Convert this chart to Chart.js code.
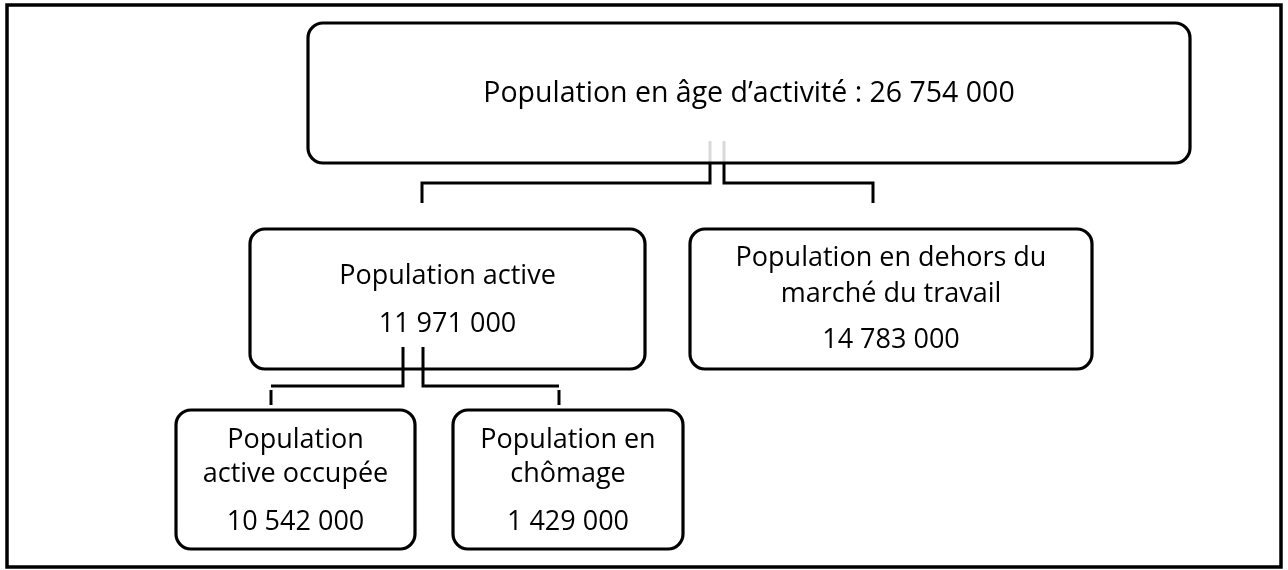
<!DOCTYPE html>
<html lang="fr">
<head>
<meta charset="utf-8">
<title>Population en âge d'activité</title>
<script src="https://cdn.jsdelivr.net/npm/chart.js@4/dist/chart.umd.min.js"></script>
<style>
  html, body { margin: 0; padding: 0; background: #ffffff; overflow: hidden; }
  canvas { display: block; }
</style>
</head>
<body>
<canvas id="c" width="1288" height="570"></canvas>
<script>
// ---------- DATA ----------
const nodeNames = [
  ["Population en âge d’activité :"],
  ["Population active"],
  ["Population en dehors du", "marché du travail"],
  ["Population", "active occupée"],
  ["Population en", "chômage"]
];
const nodeValues = [26754000, 11971000, 14783000, 10542000, 1429000];
const nodeParents = [null, 0, 0, 1, 1];

// ---------- LAYOUT (data units of the x / y scales) ----------
const boxRects = [            // [left, top, right, bottom]
  [308, 23, 1190, 163],
  [250, 229, 645, 369],
  [690, 229, 1092, 369],
  [176, 410, 415, 549],
  [453, 410, 683, 549]
];
const textBaselines = [       // baseline of each text line, last = value line
  [102],
  [284, 332],
  [266, 302, 348],
  [448, 482, 530],
  [448, 482, 530]
];
const fontSizes = [28.5, 27, 27, 27, 27];
const inlineValue = [true, false, false, false, false];
// connectors: for each parent, stems x, stem top, bar y, ticks (x, top, bottom)
const connectors = [
  { stems: [710, 724], stemTop: 163, ghostTop: 141, barY: 183,
    ends: [422, 873], tickTop: 183, tickBottom: 203 },
  { stems: [403, 423], stemTop: 347, ghostTop: null, barY: 386,
    ends: [271, 559], tickTop: 390, tickBottom: 405 }
];
const frameRect = [7, 5, 1281, 567];

const fmt = v => String(v).replace(/\B(?=(\d{3})+(?!\d))/g, ' ');

const diagramPlugin = {
  id: 'diagram',
  afterDraw(chart) {
    const ctx = chart.ctx;
    const X = v => chart.scales.x.getPixelForValue(v);
    const Y = v => chart.scales.y.getPixelForValue(v);
    ctx.save();
    ctx.strokeStyle = '#000';
    ctx.lineCap = 'butt';
    ctx.lineJoin = 'miter';

    // outer frame
    ctx.lineWidth = 3.5;
    ctx.strokeRect(X(frameRect[0]), Y(frameRect[1]),
                   X(frameRect[2]) - X(frameRect[0]), Y(frameRect[3]) - Y(frameRect[1]));

    // connectors
    connectors.forEach(cn => {
      if (cn.ghostTop !== null) {
        ctx.strokeStyle = '#d9d9d9';
        ctx.lineWidth = 3;
        cn.stems.forEach(sx => {
          ctx.beginPath();
          ctx.moveTo(X(sx), Y(cn.ghostTop));
          ctx.lineTo(X(sx), Y(cn.stemTop));
          ctx.stroke();
        });
      }
      ctx.strokeStyle = '#000';
      ctx.lineWidth = 3;
      for (let i = 0; i < 2; i++) {
        ctx.beginPath();
        ctx.moveTo(X(cn.stems[i]), Y(cn.stemTop));
        ctx.lineTo(X(cn.stems[i]), Y(cn.barY));
        ctx.lineTo(X(cn.ends[i]), Y(cn.barY));
        if (cn.tickTop === cn.barY) ctx.lineTo(X(cn.ends[i]), Y(cn.tickBottom));
        ctx.stroke();
        if (cn.tickTop !== cn.barY) {
          ctx.beginPath();
          ctx.moveTo(X(cn.ends[i]), Y(cn.tickTop));
          ctx.lineTo(X(cn.ends[i]), Y(cn.tickBottom));
          ctx.stroke();
        }
      }
    });

    // boxes
    boxRects.forEach(r => {
      ctx.lineWidth = 3.2;
      ctx.strokeStyle = '#000';
      ctx.beginPath();
      ctx.roundRect(X(r[0]), Y(r[1]), X(r[2]) - X(r[0]), Y(r[3]) - Y(r[1]), 15);
      ctx.stroke();
    });

    // texts
    ctx.fillStyle = '#000';
    ctx.textAlign = 'center';
    ctx.textBaseline = 'alphabetic';
    nodeNames.forEach((lines, i) => {
      ctx.font = fontSizes[i] + 'px "Open Sans"';
      const r = boxRects[i];
      const cx = X((r[0] + r[2]) / 2);
      const bl = textBaselines[i];
      if (inlineValue[i]) {
        ctx.fillText(lines[0] + ' ' + fmt(nodeValues[i]), cx, Y(bl[0]));
      } else {
        lines.forEach((t, k) => ctx.fillText(t, cx, Y(bl[k])));
        ctx.fillText(fmt(nodeValues[i]), cx, Y(bl[bl.length - 1]));
      }
    });
    ctx.restore();
  }
};

const centers = boxRects.map(r => ({ x: (r[0] + r[2]) / 2, y: (r[1] + r[3]) / 2 }));

new Chart(document.getElementById('c'), {
  type: 'scatter',
  data: {
    datasets: [{
      label: 'Population',
      data: centers,
      pointRadius: 0,
      pointHoverRadius: 0
    }]
  },
  options: {
    responsive: false,
    animation: false,
    events: [],
    layout: { padding: 0 },
    plugins: { legend: { display: false }, tooltip: { enabled: false } },
    scales: {
      x: { type: 'linear', min: 0, max: 1288, display: false },
      y: { type: 'linear', min: 0, max: 570, reverse: true, display: false }
    }
  },
  plugins: [diagramPlugin]
});
</script>
</body>
</html>
